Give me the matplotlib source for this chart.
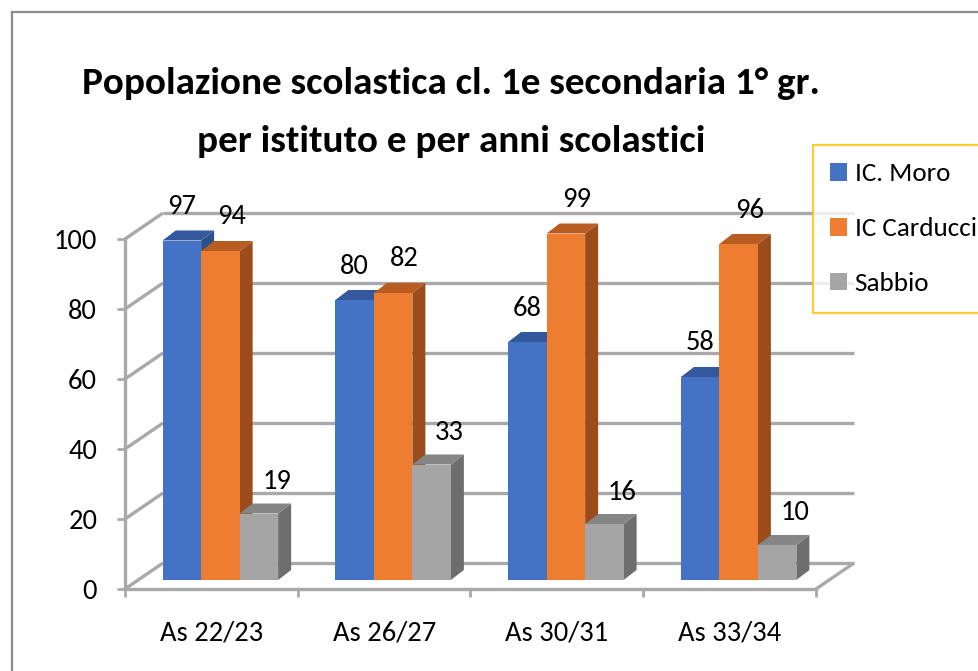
import matplotlib
matplotlib.use('Agg')
import matplotlib.pyplot as plt
from matplotlib.patches import Polygon
from matplotlib.lines import Line2D
from matplotlib import font_manager as fm

# ---------------- data ----------------
categories = ['As 22/23', 'As 26/27', 'As 30/31', 'As 33/34']
series_names = ['IC. Moro', 'IC Carducci', 'Sabbio']
moro = [97, 80, 68, 58]
carducci = [94, 82, 99, 96]
sabbio = [19, 33, 16, 10]
y_ticks = [0, 20, 40, 60, 80, 100]
title_lines = ['Popolazione scolastica cl. 1e secondaria 1° gr.',
               'per istituto e per anni scolastici']

# ---------------- style ----------------
front_colors = ['#4472C4', '#ED7D31', '#A5A5A5']
top_colors = ['#33599C', '#B85C22', '#858585']
side_colors = ['#2C4F8E', '#9C4C1B', '#6E6E6E']
grid_color = '#A9A9A9'

avail = {f.name for f in fm.fontManager.ttflist}
def pick(cands):
    for c in cands:
        if c in avail:
            return c
    return 'DejaVu Sans'
base_font = pick(['Carlito', 'Liberation Sans', 'Arimo', 'DejaVu Sans'])
fs_text = 20.5 if base_font == 'Carlito' else 18
narrow_font = pick(['Carlito', 'Liberation Sans Narrow', 'Roboto Condensed', base_font])

W, H = 979, 671
fig = plt.figure(figsize=(W / 100, H / 100), dpi=100)
fig.patch.set_facecolor('white')

PX = 172.75   # pixels per category
PY = 3.5      # pixels per value unit
x0_px, y0_px = 125, 589
xmax, ymax = 4.3, 112
ax = fig.add_axes([x0_px / W, (H - y0_px) / H, xmax * PX / W, ymax * PY / H])
ax.set_xlim(0, xmax)
ax.set_ylim(0, ymax)
ax.patch.set_alpha(0)

def dx(px):
    return px / PX

def dy(px):
    return px / PY

n = len(categories)
back_dx, back_dy = dx(38), dy(26)
bar_dx, bar_dy = dx(13), dy(10)
shift_x, shift_y = dx(9), dy(9)
w = dx(38.5)

# back wall gridlines and side-wall diagonals
gkw = dict(color=grid_color, lw=2.4, solid_capstyle='butt', zorder=1, clip_on=False)
for v in y_ticks:
    ax.plot([back_dx, n + back_dx], [v + back_dy] * 2, **gkw)
    ax.plot([0, back_dx], [v, v + back_dy], **gkw)
ax.plot([n, n + back_dx], [0, back_dy], **gkw)

# spines / ticks
for s in ['top', 'right']:
    ax.spines[s].set_visible(False)
for s in ['left', 'bottom']:
    ax.spines[s].set_color(grid_color)
    ax.spines[s].set_linewidth(2.4)
    ax.spines[s].set_zorder(2)
ax.spines['left'].set_bounds(0, max(y_ticks))
ax.spines['bottom'].set_bounds(0, n)

ax.set_yticks(y_ticks)
ax.set_yticklabels([str(v) for v in y_ticks], fontsize=fs_text, family=base_font)
ax.tick_params(axis='y', direction='out', length=6, width=2, color=grid_color, pad=14)
ax.set_xticks(range(n + 1))
ax.set_xticklabels([''] * (n + 1))
ax.set_xticks([i + 0.5 for i in range(n)], minor=True)
ax.set_xticklabels(categories, minor=True, fontsize=fs_text, family=base_font)
ax.tick_params(axis='x', which='major', direction='out', length=6, width=2, color=grid_color)
ax.tick_params(axis='x', which='minor', length=0, pad=23)

# bars with pseudo-3D faces
values = [moro, carducci, sabbio]
lab_dx = [dx(0), dx(11), dx(18)]
lab_dy = [dy(34), dy(34), dy(32)]
containers = []
for j, vals in enumerate(values):
    xs = [i + 0.5 + shift_x + (j - 1) * w for i in range(n)]
    z = 3 + 2 * j
    bc = ax.bar(xs, vals, width=w, bottom=shift_y, color=front_colors[j],
                edgecolor='none', zorder=z + 1, label=series_names[j])
    containers.append(bc)
    for x, v in zip(xs, vals):
        l, r = x - w / 2, x + w / 2
        b, t = shift_y, shift_y + v
        side = Polygon([(r, b), (r + bar_dx, b + bar_dy), (r + bar_dx, t + bar_dy), (r, t)],
                       closed=True, facecolor=side_colors[j], edgecolor='none', zorder=z)
        top = Polygon([(l, t), (r, t), (r + bar_dx, t + bar_dy), (l + bar_dx, t + bar_dy)],
                      closed=True, facecolor=top_colors[j], edgecolor='none', zorder=z)
        ax.add_patch(side)
        ax.add_patch(top)
        ax.text(x + lab_dx[j], t + lab_dy[j], str(v), ha='center', va='center',
                fontsize=fs_text, family=base_font, zorder=20, clip_on=False)

# legend
leg_fs = fs_text - 1
leg = fig.legend(containers, series_names, loc='upper left',
                 bbox_to_anchor=(813 / W, 1 - 145 / H), frameon=True, fancybox=False,
                 edgecolor='#FFC000', prop={'family': base_font, 'size': leg_fs},
                 handlelength=0.62, handleheight=0.62, handletextpad=0.28,
                 labelspacing=1.18, borderpad=0.64, borderaxespad=0)
leg.get_frame().set_linewidth(1.6)

# outer frame (cropped chart area border)
fig.add_artist(Line2D([12 / W, 12 / W], [0, 1 - 12 / H], transform=fig.transFigure,
                      color='#8C8C8C', lw=1.6))
fig.add_artist(Line2D([12 / W, 1], [1 - 12 / H, 1 - 12 / H], transform=fig.transFigure,
                      color='#8C8C8C', lw=1.6))

# title: fit width of first line to reference
fig.canvas.draw()
rend = fig.canvas.get_renderer()
tmp = fig.text(0, 0, title_lines[0], fontsize=30, fontweight='bold', family=narrow_font)
wpx = tmp.get_window_extent(rend).width
tmp.remove()
fs = min(40, 30 * 738 / wpx)
fig.text(451 / W, 1 - 83 / H, title_lines[0], fontsize=fs, fontweight='bold',
         family=narrow_font, ha='center', va='center')
fig.text(451 / W, 1 - 141 / H, title_lines[1], fontsize=fs, fontweight='bold',
         family=narrow_font, ha='center', va='center')

fig.savefig('out.png', dpi=100)
